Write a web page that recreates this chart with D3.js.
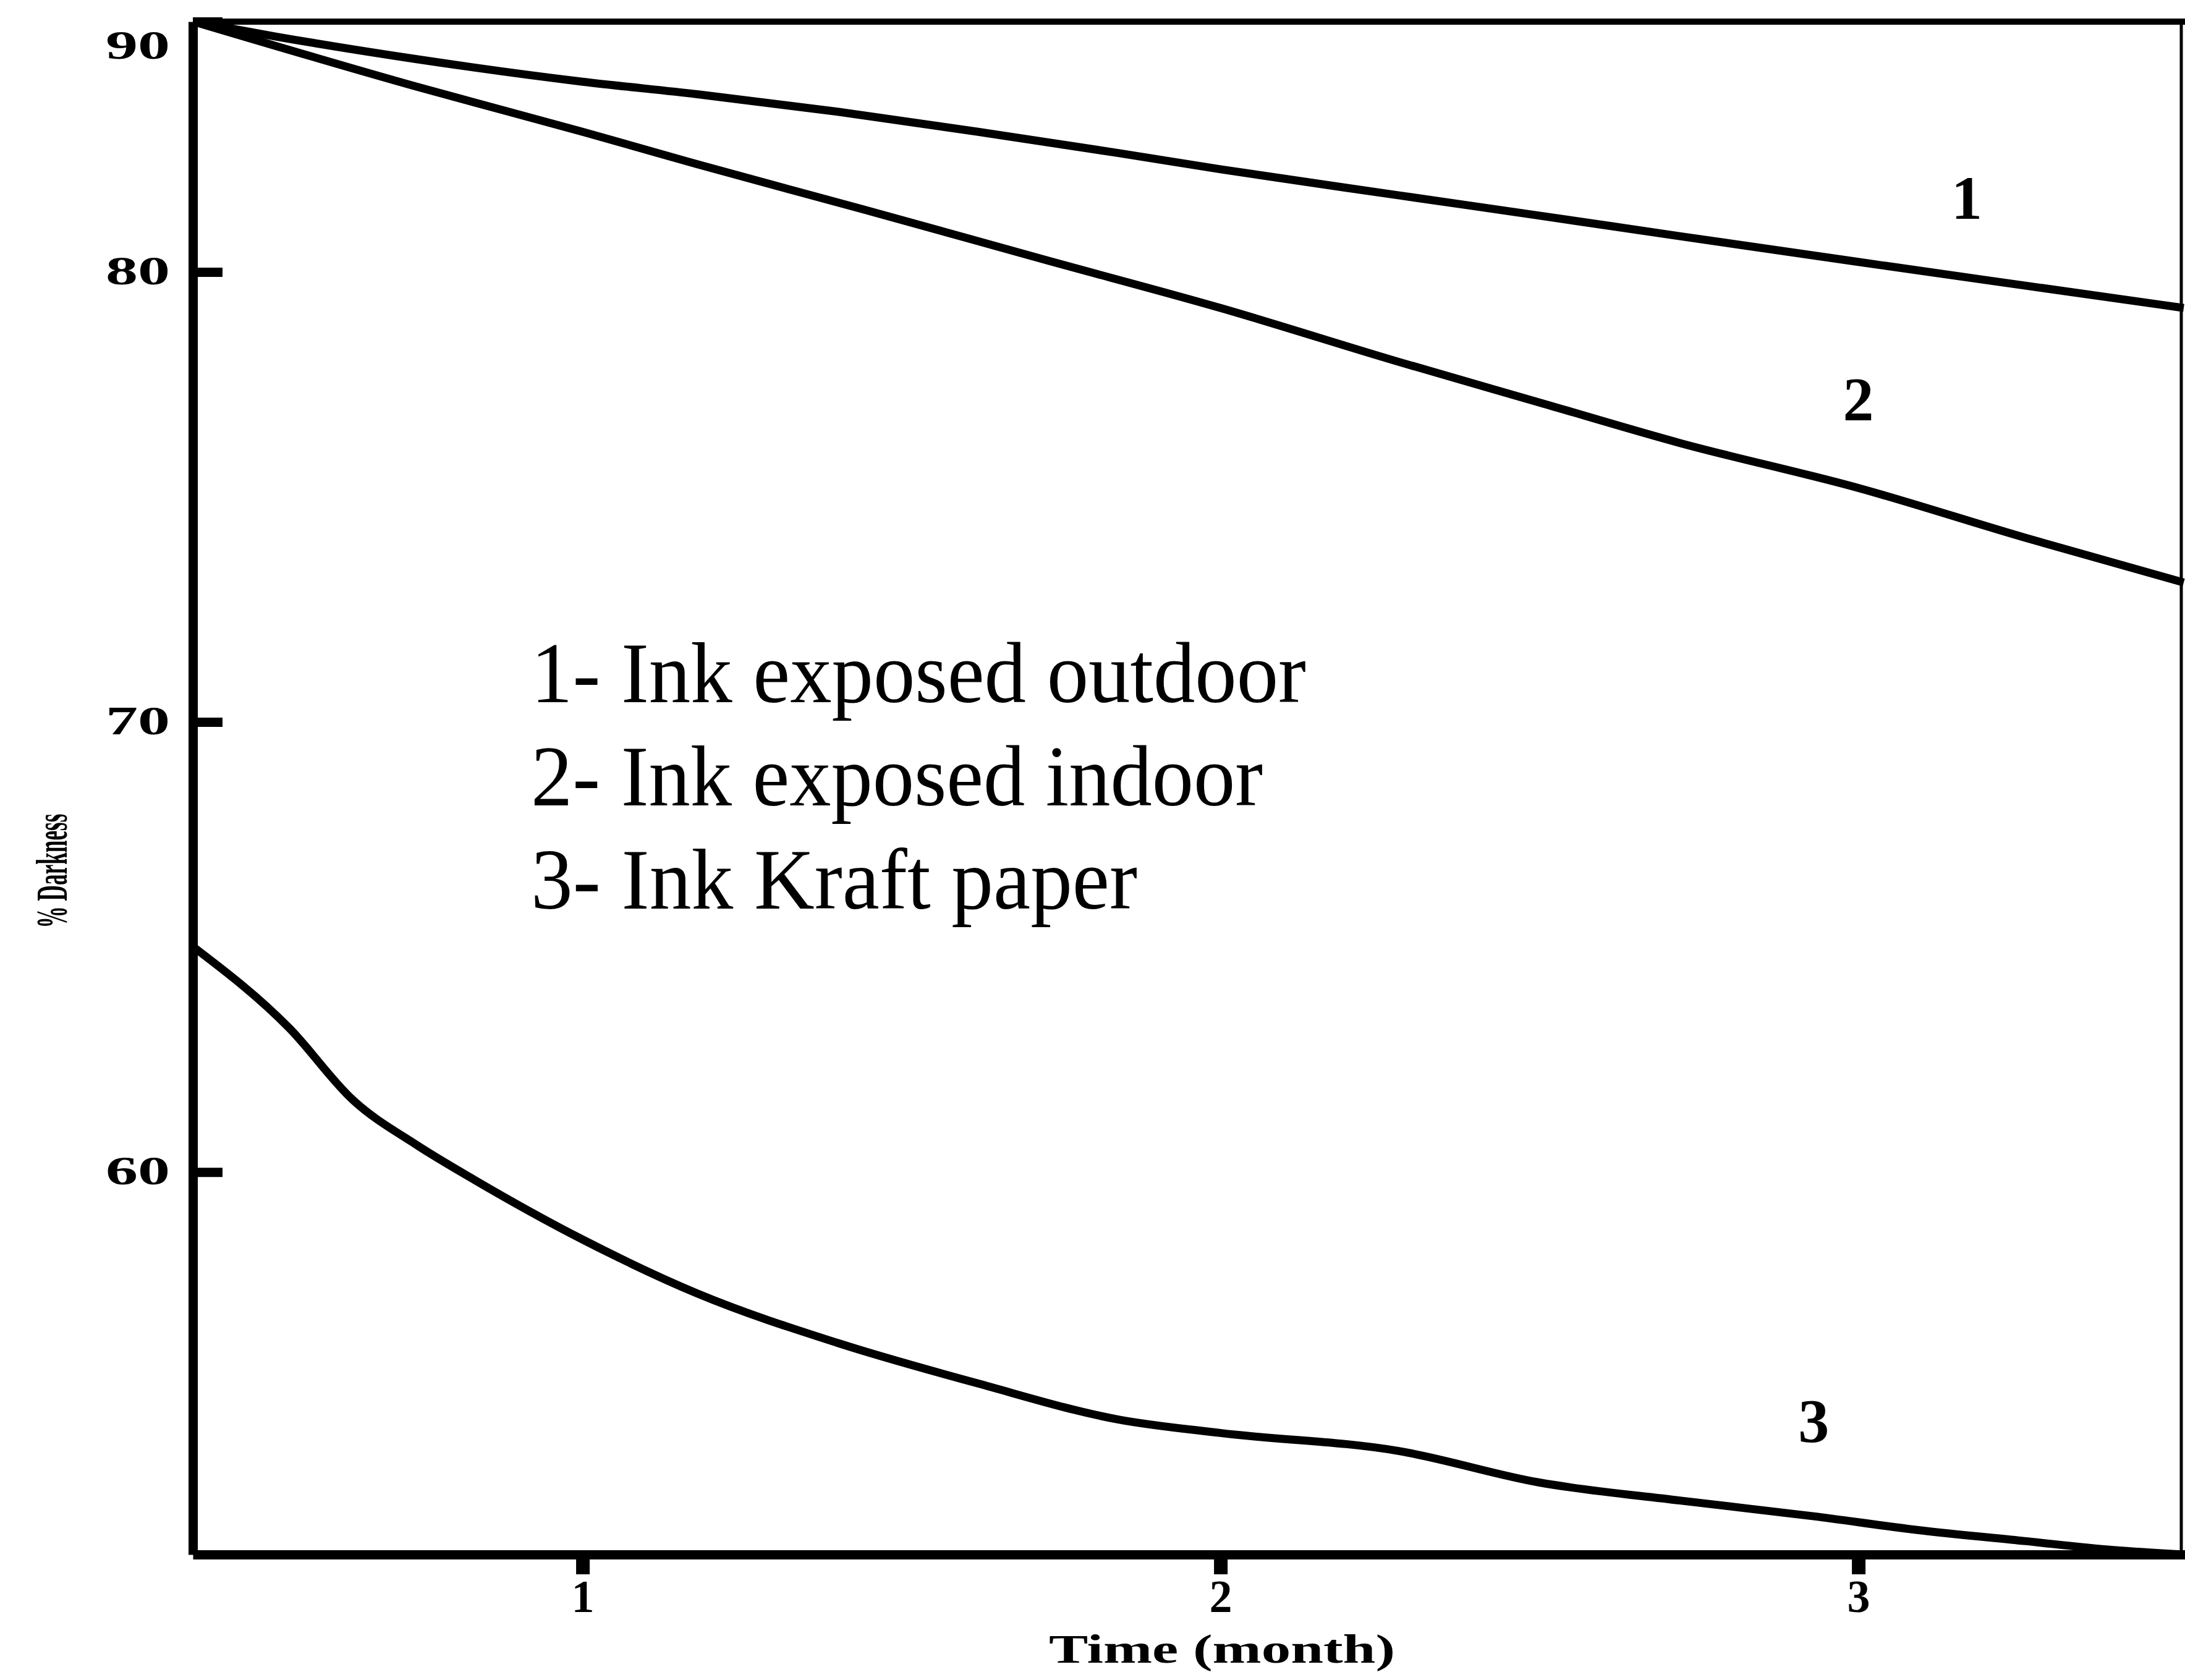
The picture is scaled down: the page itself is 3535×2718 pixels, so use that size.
<!DOCTYPE html>
<html>
<head>
<meta charset="utf-8">
<script src="https://cdn.jsdelivr.net/npm/d3@7"></script>
<style>
  html, body { margin: 0; padding: 0; background: #fff; }
  svg { display: block; }
</style>
</head>
<body>
<div class="chart"></div>
<script>
// Datos
const outdoorMonths = [0.39, 0.52, 0.74, 1.0, 1.18, 1.4, 1.62, 1.84, 2.0, 2.28, 2.5, 2.72, 3.0, 3.26, 3.51];
const outdoorValues = [90, 89.4, 88.5, 87.6, 87.1, 86.4, 85.6, 84.75, 84.1, 83.06, 82.25, 81.43, 80.4, 79.7, 79.2];

const indoorMonths = [0.39, 0.74, 1.0, 1.18, 1.44, 1.73, 2.0, 2.28, 2.5, 2.72, 3.0, 3.26, 3.51];
const indoorValues = [90, 87.4, 85.6, 84.3, 82.5, 80.45, 79.2, 78.0, 77.1, 76.2, 75.2, 74.1, 73.1];

const kraftMonths = [0.39, 0.54, 0.64, 0.74, 0.83, 1.0, 1.18, 1.4, 1.62, 1.84, 2.0, 2.28, 2.5, 2.72, 2.93, 3.09, 3.26, 3.4, 3.51];
const kraftValues = [65.0, 63.2, 61.6, 60.6, 59.83, 58.5, 57.3, 56.2, 55.3, 54.5, 54.2, 53.8, 53.1, 52.7, 52.35, 52.05, 51.8, 51.6, 51.5];

const xTicks = [1, 2, 3];
const yTicks = [60, 70, 80, 90];

const legendLines = ["1- Ink exposed outdoor", "2- Ink exposed indoor", "3- Ink Kraft paper"];
const curveLabels = ["1", "2", "3"];
const labelMonths = [3.17, 3.0, 2.93];
const labelValues = [83.0, 77.2, 54.5];

// Tamaño del lienzo
const width = 3535;
const height = 2718;
const plotLeft = 312, plotRight = 3535, plotTop = 35, plotBottom = 2515;

const svg = d3.select(".chart")
  .append("svg")
  .attr("width", width)
  .attr("height", height);

// Escalas (la de Y es por tramos: el tramo 80-90 está comprimido en la figura)
const x = d3.scaleLinear().domain([0.389, 3.512]).range([plotLeft, plotRight]);
const y = d3.scaleLinear().domain([51.5, 80, 90]).range([plotBottom, 440, plotTop]);

// Marco superior y derecho
svg.append("line")
  .attr("x1", plotLeft).attr("x2", plotRight)
  .attr("y1", y(90)).attr("y2", y(90))
  .attr("stroke", "#000").attr("stroke-width", 10);
svg.append("line")
  .attr("x1", 3529).attr("x2", 3529)
  .attr("y1", y(90)).attr("y2", plotBottom)
  .attr("stroke", "#000").attr("stroke-width", 5);

// Ejes
const xAxis = svg.append("g")
  .attr("transform", `translate(0,${plotBottom})`)
  .call(d3.axisBottom(x).tickValues(xTicks).tickFormat(d3.format("d"))
    .tickSizeInner(32).tickSizeOuter(0).tickPadding(8));

const yAxis = svg.append("g")
  .attr("transform", `translate(${plotLeft},0)`)
  .call(d3.axisLeft(y).tickValues(yTicks).tickFormat(d3.format("d"))
    .tickSizeInner(-48).tickSizeOuter(0).tickPadding(37));

[xAxis, yAxis].forEach(g => {
  g.select(".domain").attr("stroke", "#000").attr("stroke-width", 15);
  g.selectAll(".tick text")
    .attr("fill", "#000")
    .style("font-family", "'Liberation Serif', serif")
    .style("font-weight", "bold")
    .style("font-size", "66px");
});
xAxis.selectAll(".tick line").attr("stroke", "#000").attr("stroke-width", 22);
xAxis.selectAll(".tick text").style("font-size", "74px");
yAxis.selectAll(".tick line").attr("stroke", "#000").attr("stroke-width", 15);
yAxis.selectAll(".tick text")
  .attr("textLength", 104)
  .attr("lengthAdjust", "spacingAndGlyphs")
  .attr("dy", d => d === 90 ? "0.9em" : "0.3em");

// Títulos de ejes
svg.append("text")
  .attr("x", 1977).attr("y", 2690)
  .attr("text-anchor", "middle")
  .attr("textLength", 560)
  .attr("lengthAdjust", "spacingAndGlyphs")
  .style("font-family", "'Liberation Serif', serif")
  .style("font-weight", "bold")
  .style("font-size", "66px")
  .text("Time (month)");

svg.append("text")
  .attr("transform", "translate(108,1409) rotate(-90)")
  .attr("text-anchor", "middle")
  .attr("textLength", 185)
  .attr("lengthAdjust", "spacingAndGlyphs")
  .style("font-family", "'Liberation Serif', serif")
  .style("font-weight", "bold")
  .style("font-size", "72px")
  .text("% Darkness");

// Curvas
const line = d3.line()
  .x(d => x(d[0]))
  .y(d => y(d[1]))
  .curve(d3.curveMonotoneX);

const series = [
  d3.zip(outdoorMonths, outdoorValues),
  d3.zip(indoorMonths, indoorValues),
  d3.zip(kraftMonths, kraftValues)
];

svg.selectAll(".serie")
  .data(series)
  .join("path")
  .attr("class", "serie")
  .attr("d", line)
  .attr("fill", "none")
  .attr("stroke", "#000")
  .attr("stroke-width", 13)
  .attr("stroke-linejoin", "round");

// Números de cada curva
svg.selectAll(".curve-label")
  .data(curveLabels)
  .join("text")
  .attr("class", "curve-label")
  .attr("x", (d, i) => x(labelMonths[i]))
  .attr("y", (d, i) => y(labelValues[i]))
  .attr("dy", "0.35em")
  .attr("text-anchor", "middle")
  .style("font-family", "'Liberation Serif', serif")
  .style("font-weight", "bold")
  .style("font-size", "100px")
  .text(d => d);

// Leyenda
const legendWidths = [1254, 1184, 981];
svg.selectAll(".legend")
  .data(legendLines)
  .join("text")
  .attr("class", "legend")
  .attr("x", 859)
  .attr("y", (d, i) => 1136 + i * 167)
  .attr("textLength", (d, i) => legendWidths[i])
  .attr("lengthAdjust", "spacingAndGlyphs")
  .style("font-family", "'Liberation Serif', serif")
  .style("font-size", "140px")
  .text(d => d);
</script>
</body>
</html>
